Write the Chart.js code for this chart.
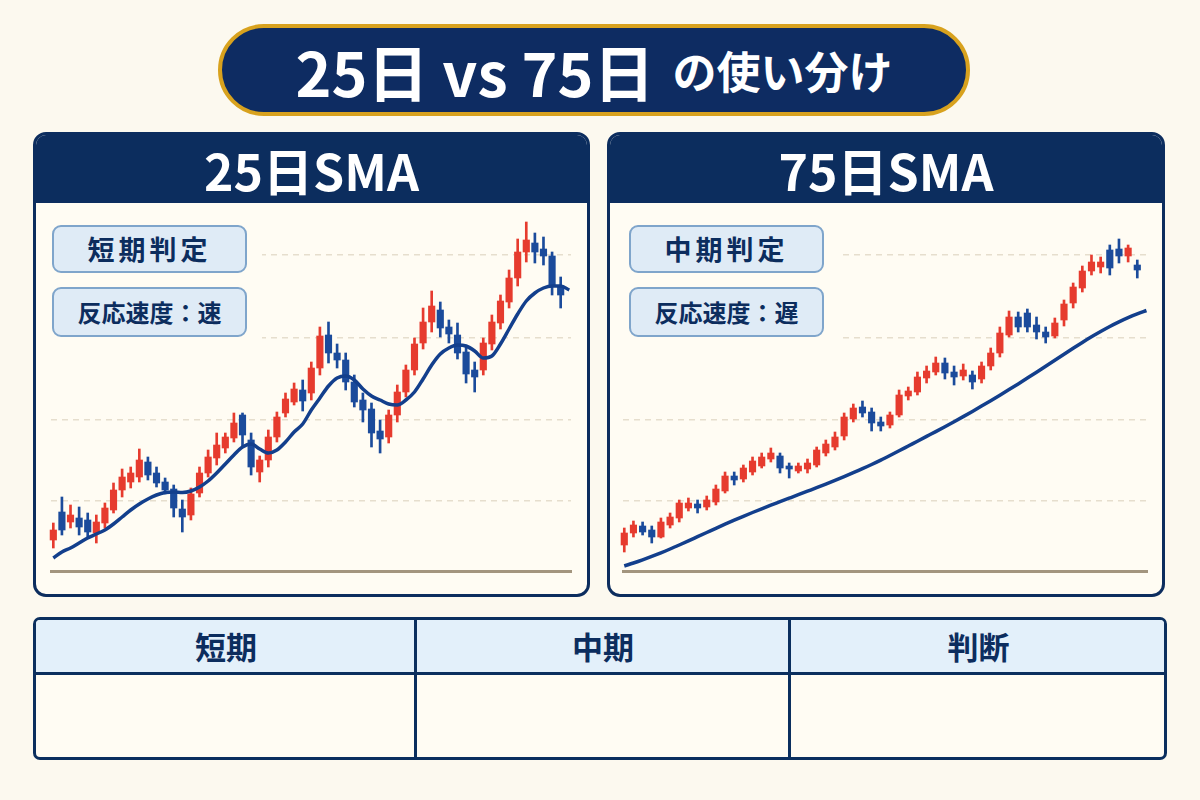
<!DOCTYPE html>
<html><head><meta charset="utf-8">
<script src="https://cdn.jsdelivr.net/npm/chart.js@4.4.0/dist/chart.umd.min.js"></script>
<style>
html,body{margin:0;padding:0;}
body{width:1200px;height:800px;background:#FCF9EF;position:relative;overflow:hidden;font-family:"Noto Sans CJK JP","Noto Sans",sans-serif;}
.pill{position:absolute;left:218px;top:24px;width:752px;height:92px;box-sizing:border-box;border:4px solid #D8A21E;border-radius:46px;background:#0E2C62;color:#fff;display:flex;align-items:center;justify-content:center;font-weight:700;}
.pill .big{font-size:61px;letter-spacing:0px;line-height:1;}
.pill .sm{font-size:44px;margin-left:18px;line-height:1;}
.panel{position:absolute;top:132px;height:465px;box-sizing:border-box;border:3px solid #0C2D5E;border-radius:13px;background:#FFFCF3;overflow:hidden;}
.panel .hdr{height:68px;background:#0C2D5E;color:#fff;font-weight:700;font-size:50px;text-align:center;line-height:68px;}
.halo{position:absolute;background:#FFFCF3;z-index:2;}
.lab{position:absolute;width:195px;height:48px;box-sizing:border-box;border:2px solid #7FA5CB;border-radius:9px;background:#DFEBF6;color:#0C2D5E;font-weight:700;text-align:center;z-index:3;}
.lab.a{font-size:27px;line-height:44px;letter-spacing:4px;}
.lab.b{font-size:24px;line-height:46px;height:50px;}
canvas{position:absolute;z-index:1;}
.tbl{position:absolute;left:33px;top:617px;width:1134px;height:143px;box-sizing:border-box;border:3px solid #0B2F5E;border-radius:7px;overflow:hidden;background:#FFFCF3;}
.tbl .head{position:absolute;left:0;top:0;width:100%;height:52px;background:#E3F0FA;border-bottom:3px solid #0B2F5E;}
.tbl .cell{position:absolute;top:0;height:52px;line-height:52px;text-align:center;color:#0C2D5E;font-weight:700;font-size:31px;}
.tbl .vl{position:absolute;top:0;width:3px;height:100%;background:#0B2F5E;}
</style></head>
<body>
<div class="pill"><span class="big">25日 vs 75日</span><span class="sm">の使い分け</span></div>

<div class="panel" style="left:33px;width:557px;"><div class="hdr">25日SMA</div></div>
<div class="panel" style="left:607px;width:558px;"><div class="hdr">75日SMA</div></div>

<canvas id="c1" width="551" height="391" style="left:36px;top:203px;"></canvas>
<canvas id="c2" width="552" height="391" style="left:610px;top:203px;"></canvas>

<div class="halo" style="left:40px;top:215px;width:222px;height:128px;"></div>
<div class="halo" style="left:617px;top:215px;width:222px;height:128px;"></div>
<div class="lab a" style="left:52px;top:225px;">短期判定</div>
<div class="lab b" style="left:52px;top:287px;">反応速度：速</div>
<div class="lab a" style="left:629px;top:225px;">中期判定</div>
<div class="lab b" style="left:629px;top:287px;">反応速度：遅</div>

<div class="tbl">
  <div class="head"></div>
  <div class="cell" style="left:0;width:380px;">短期</div>
  <div class="cell" style="left:380px;width:374px;">中期</div>
  <div class="cell" style="left:754px;width:377px;">判断</div>
  <div class="vl" style="left:378px;"></div>
  <div class="vl" style="left:752px;"></div>
</div>

<script>
// ---- 25-day chart (60 candles) ----
const open25  = [60,88,78,82,80,67,77,90,110,118,123,138,127,118,111,91,85,107,127,142,152,162,185,160,128,140,163,187,198,210,207,232,265,247,240,218,200,191,169,163,185,208,230,257,278,290,273,265,248,230,230,256,277,298,322,348,357,351,344,314];
const close25 = [70,70,85,73,68,78,92,110,123,127,140,125,117,110,92,83,106,127,143,155,163,177,165,133,140,163,183,201,211,199,232,264,247,240,218,198,190,167,161,185,208,230,256,278,294,272,266,247,226,223,257,278,299,322,348,360,348,344,315,305];
const high25  = [77,103,95,93,87,85,97,117,131,133,151,143,133,122,115,100,112,133,150,167,167,187,187,167,144,170,188,207,217,220,238,273,278,256,247,225,207,197,180,190,215,235,262,292,309,298,280,277,254,238,262,285,305,330,361,378,367,363,348,323];
const low25   = [52,65,72,65,63,57,72,87,103,112,118,120,113,106,83,68,80,103,123,135,147,158,153,125,118,133,158,183,195,189,200,225,237,232,210,193,178,153,147,157,178,203,225,251,268,263,257,241,217,208,225,250,271,292,314,338,337,335,305,292];
const sma25   = [42,48,52,57,62,66,70,76,83,90,96,101,105,107.5,108,107.5,109,113,119,127,136,145,153,156,151,147,150,158,168,176,190,202,214,222,224,220,211,204,200,196,195,200,208,221,235,246,252,255,254,249,242,244,256,271,286,299,307,312,314,314,310];

// ---- 75-day chart (57 candles) ----
const open75  = [55,67,74,70,63,75,82,92,96,93,98,109,124,121,128,134,141,144,134,129,131,135,147,153,164,181,193,188,178,175,185,204,208,222,228,237,228,224,225,221,234,247,265,283,287,275,268,264,280,297,312,329,333,350,351,344,335];
const close75 = [67,75,68,63,78,83,97,97,92,100,111,124,120,132,139,143,147,132,131,134,137,150,156,163,183,192,187,177,174,185,205,209,223,229,237,227,223,230,218,234,247,267,283,273,273,268,263,277,296,313,329,338,338,332,344,352,330];
const high75  = [72,79,78,74,82,87,100,102,100,104,115,128,128,135,143,147,152,147,137,137,141,153,160,168,187,196,199,192,183,188,210,213,228,234,243,242,234,236,229,238,252,273,289,288,291,283,273,282,300,317,334,345,343,355,361,355,340];
const low75   = [48,63,65,57,62,72,78,89,87,90,95,107,115,118,125,132,138,127,122,127,127,133,144,150,160,178,183,169,169,172,183,200,205,217,225,221,215,220,211,217,230,243,263,268,268,261,257,262,274,292,308,325,327,325,337,338,322];
const sma75   = [34,37,40.2,43.6,47.2,51,55,59.1,63.3,67.5,71.7,75.8,79.8,83.7,87.5,91.2,94.8,98.3,101.8,105.3,108.8,112.3,115.9,119.6,123.4,127.3,131.3,135.5,139.9,144.5,149.2,154,158.8,163.6,168.4,173.3,178.3,183.4,188.6,193.9,199.3,204.8,210.4,216.1,221.9,227.8,233.8,239.8,245.8,251.8,257.6,263.2,268.5,273.5,278.1,282.3,286.1,289.5];

const gridLevels = [99, 180, 262, 345];

const RED = '#E63B2E', BLUE = '#1B4B9B', LINE = '#133F8C';

function makeChart(id, O, C, H, L, sma, xmin, xmax, pad) {
  const idx = O.map((_, i) => i);
  const cols = O.map((o, i) => (C[i] >= o ? RED : BLUE));
  new Chart(document.getElementById(id), {
    type: 'bar',
    data: {
      datasets: [
        { type: 'line', data: sma.map((v, i) => ({ x: i, y: v })), borderColor: LINE, borderWidth: 3.5,
          pointRadius: 0, tension: 0.4, cubicInterpolationMode: 'monotone', order: 0, clip: false },
        { type: 'bar', data: idx.map(i => ({ x: i, y: [L[i], H[i]] })), backgroundColor: cols,
          barThickness: 2, grouped: false, order: 2, clip: false },
        { type: 'bar', data: idx.map(i => ({ x: i, y: [Math.min(O[i], C[i]), Math.max(O[i], C[i])] })),
          backgroundColor: cols, barThickness: 6.5, grouped: false, order: 1, clip: false }
      ]
    },
    options: {
      responsive: false, animation: false, events: [],
      layout: { padding: pad },
      plugins: { legend: { display: false }, tooltip: { enabled: false } },
      scales: {
        x: { type: 'linear', offset: false, min: xmin, max: xmax, ticks: { display: false },
             grid: { display: false, drawTicks: false, offset: false }, border: { display: true, color: '#A3957E', width: 3 } },
        y: { min: 29, max: 385, afterBuildTicks: s => { s.ticks = gridLevels.map(v => ({ value: v })); },
             ticks: { display: false }, grid: { color: '#E6DECD', lineWidth: 1.5, drawTicks: false },
             border: { display: false, dash: [6, 5] } }
      }
    }
  });
}

makeChart('c1', open25, close25, high25, low25, sma25, -0.27, 60.2, { left: 15, right: 16, top: 12, bottom: 23 });
makeChart('c2', open75, close75, high75, low75, sma75, -0.14, 57.06, { left: 13, right: 15, top: 12, bottom: 23 });
</script>
</body></html>
